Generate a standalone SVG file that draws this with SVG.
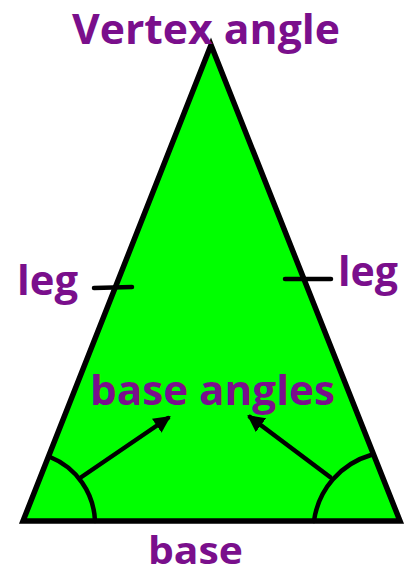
<svg xmlns="http://www.w3.org/2000/svg" width="409" height="576" viewBox="0 0 409 576">
<style>
.lbl{font-family:"Open Sans","Liberation Sans",sans-serif;font-weight:bold;fill:#7a0f8c}
.ln{stroke:#000;stroke-width:4.5;fill:none;stroke-linecap:round}
</style>
<defs>
<marker id="ah" viewBox="0 0 10 10" refX="8" refY="5" markerWidth="3.8" markerHeight="3.8" orient="auto" markerUnits="strokeWidth">
<path d="M0,0 L10,5 L0,10 z" fill="#000"/>
</marker>
</defs>
<rect width="409" height="576" fill="#fff"/>
<g id="triangle">
<polygon points="211,45 23,521 400,521" fill="#00ff00" stroke="#000" stroke-width="5.5" stroke-linejoin="miter"/>
</g>
<g id="marks">
<line class="ln" x1="94" y1="288" x2="132" y2="287"/>
<line class="ln" x1="285" y1="279" x2="331" y2="279"/>
<path class="ln" d="M50,457 A72,72 0 0 1 95,521"/>
<path class="ln" d="M371,455 A80,80 0 0 0 314,521"/>
</g>
<g id="connectors">
<line class="ln" x1="80" y1="478" x2="168" y2="418" marker-end="url(#ah)"/>
<line class="ln" x1="330" y1="477" x2="250" y2="417" marker-end="url(#ah)"/>
</g>
<g id="label-vertex"><text class="lbl" x="72" y="44" font-size="42" textLength="268" lengthAdjust="spacingAndGlyphs">Vertex angle</text></g>
<g id="label-leg-left"><text class="lbl" x="17" y="295" font-size="42" textLength="61" lengthAdjust="spacingAndGlyphs">leg</text></g>
<g id="label-leg-right"><text class="lbl" x="338" y="286" font-size="42" textLength="60" lengthAdjust="spacingAndGlyphs">leg</text></g>
<g id="label-base-angles"><text class="lbl" x="90" y="405" font-size="42" textLength="245" lengthAdjust="spacingAndGlyphs">base angles</text></g>
<g id="label-base"><text class="lbl" x="148" y="564" font-size="38" textLength="95" lengthAdjust="spacingAndGlyphs">base</text></g>
</svg>
